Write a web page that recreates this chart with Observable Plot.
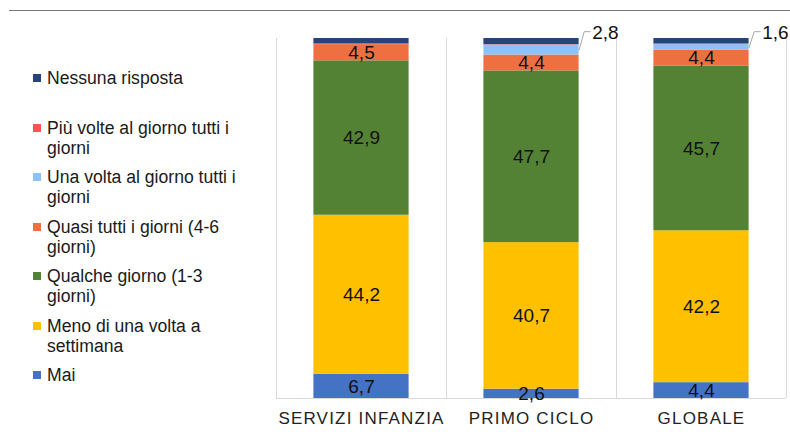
<!DOCTYPE html>
<html>
<head>
<meta charset="utf-8">
<script src="https://cdn.jsdelivr.net/npm/d3@7"></script>
<script src="https://cdn.jsdelivr.net/npm/@observablehq/plot@0.6"></script>
<style>
  html, body { margin: 0; padding: 0; background: #fff; }
  body { width: 790px; height: 432px; position: relative; overflow: hidden; font-family: "Liberation Sans", Arial, sans-serif; }
  #topline { position: absolute; left: 9px; right: 0; top: 10px; height: 0; border-top: 1px solid #7a7a7a; }
  #chart { position: absolute; left: 0; top: 0; }
  #legend { position: absolute; left: 33px; top: 68px; }
  .item { height: 49.5px; display: flex; align-items: flex-start; }
  .sw { width: 8px; height: 8px; margin-top: 6px; flex: none; }
  .lt { margin-left: 6px; width: 200px; font-size: 17.6px; line-height: 20px; color: #1a1a1a; }
  [aria-label="cat-labels"] text, text[aria-label="cat-labels"], .catlab text { letter-spacing: 1.2px; }
</style>
</head>
<body>
<div id="topline"></div>
<div id="chart"></div>
<div id="legend"></div>
<script>
// ---- data ----
const categories = ["SERVIZI INFANZIA", "PRIMO CICLO", "GLOBALE"];
const seriesNames = [
  "Mai",
  "Meno di una volta a settimana",
  "Qualche giorno (1-3 giorni)",
  "Quasi tutti i giorni (4-6 giorni)",
  "Una volta al giorno tutti i giorni",
  "Più volte al giorno tutti i giorni",
  "Nessuna risposta"
];
const seriesColors = ["#4472C4", "#FFC000", "#548235", "#EE7040", "#8CC2F7", "#FF5252", "#264478"];
const mai      = [6.7, 2.6, 4.4];
const meno     = [44.2, 40.7, 42.2];
const qualche  = [42.9, 47.7, 45.7];
const quasi    = [4.5, 4.4, 4.4];
const unaVolta = [0.0, 2.8, 1.6];
const piuVolte = [0.3, 0.1, 0.2];
const nessuna  = [1.4, 1.7, 1.5];
const seriesValues = [mai, meno, qualche, quasi, unaVolta, piuVolte, nessuna];
const insideLabelSeries = ["Mai", "Meno di una volta a settimana", "Qualche giorno (1-3 giorni)", "Quasi tutti i giorni (4-6 giorni)"];
const outsideLabelSeries = ["Una volta al giorno tutti i giorni"];

// ---- build stacked table ----
const rows = [];
categories.forEach((cat, i) => {
  let acc = 0;
  seriesNames.forEach((s, k) => {
    const v = seriesValues[k][i];
    rows.push({cat, i, series: s, value: v, y1: acc, y2: acc + v});
    acc += v;
  });
});
const fmt = v => v.toFixed(1).replace(".", ",");
const half = 0.28; // bar half-width in category units
const inside = rows.filter(d => insideLabelSeries.includes(d.series));
const outside = rows.filter(d => outsideLabelSeries.includes(d.series) && d.value > 0);
const leaders = outside.flatMap(d => [
  {id: d.cat, x: d.i + 0.5 + half, y: (d.y1 + d.y2) / 2},
  {id: d.cat, x: d.i + 0.5 + half + 0.03, y: 101.9},
  {id: d.cat, x: d.i + 0.5 + half + 0.065, y: 101.9}
]);

const plot = Plot.plot({
  width: 790,
  height: 432,
  marginLeft: 276,
  marginRight: 4,
  marginTop: 38,
  marginBottom: 34,
  style: {fontFamily: "Liberation Sans, Arial, sans-serif", background: "transparent", overflow: "visible"},
  x: {domain: [0, categories.length], axis: null},
  y: {domain: [0, 100], axis: null},
  color: {domain: seriesNames, range: seriesColors},
  marks: [
    Plot.ruleX(d3.range(categories.length + 1), {stroke: "#d9d9d9", strokeWidth: 1}),
    Plot.ruleY([0], {stroke: "#d9d9d9", strokeWidth: 1}),
    Plot.rect(rows, {x1: d => d.i + 0.5 - half, x2: d => d.i + 0.5 + half, y1: "y1", y2: "y2", fill: "series"}),
    Plot.text(inside, {x: d => d.i + 0.5, y: d => (d.y1 + d.y2) / 2, text: d => fmt(d.value), fontSize: 19, fill: "#111"}),
    Plot.line(leaders, {x: "x", y: "y", z: "id", stroke: "#a6a6a6", strokeWidth: 1}),
    Plot.text(outside, {x: d => d.i + 0.5 + half + 0.065, y: 101.9, text: d => fmt(d.value), textAnchor: "start", dx: 2, dy: 1, fontSize: 19, fill: "#111"}),
    Plot.text(categories, {x: (d, i) => i + 0.5, y: 0, dy: 20, text: d => d, fontSize: 17, fill: "#222", ariaLabel: "cat-labels"})
  ]
});
document.getElementById("chart").appendChild(plot);
// widen the category labels' tracking like the reference
d3.select(plot).selectAll("text").filter(function () { return categories.includes(this.textContent); })
  .style("letter-spacing", "1.2px");

// ---- legend (reverse order) ----
const legend = document.getElementById("legend");
seriesNames.slice().reverse().forEach(name => {
  const k = seriesNames.indexOf(name);
  const item = document.createElement("div");
  item.className = "item";
  const sw = document.createElement("div");
  sw.className = "sw";
  sw.style.background = seriesColors[k];
  const t = document.createElement("div");
  t.className = "lt";
  t.textContent = name;
  item.appendChild(sw);
  item.appendChild(t);
  legend.appendChild(item);
});
</script>
</body>
</html>
